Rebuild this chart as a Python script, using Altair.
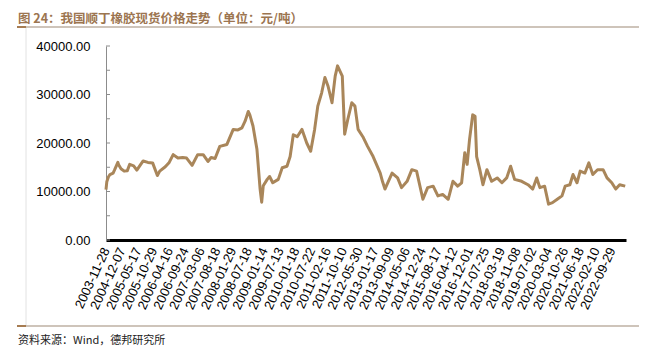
import altair as alt
import pandas as pd

# x tick labels (every 20 index steps)
tick_labels = [
    "2003-11-28", "2004-12-07", "2005-05-17", "2005-10-29", "2006-04-16", "2006-09-24",
    "2007-03-06", "2007-08-18", "2008-01-29", "2008-07-18", "2009-01-14", "2009-07-13",
    "2010-01-18", "2010-07-22", "2011-02-16", "2011-10-10", "2012-05-30", "2013-01-17",
    "2013-09-09", "2014-05-06", "2014-12-24", "2015-08-17", "2016-04-12", "2016-12-01",
    "2017-07-25", "2018-03-19", "2018-11-08", "2019-07-02", "2020-03-04", "2020-10-26",
    "2021-06-18", "2022-02-10", "2022-09-29",
]

# observation index (trading-day position) and price (yuan/ton)
idx = [0, 1, 3, 5, 9, 11, 15, 16, 19, 23, 27, 30, 35, 39, 47, 53, 59, 65, 68, 75,
       80, 85, 91, 97, 102, 109, 116, 123, 129, 133, 138, 144, 153, 161, 167, 172, 176, 180, 182, 186,
       191, 195, 197, 199, 204, 207, 211, 218, 223, 229, 233, 237, 242, 248, 254, 259, 264, 268, 273, 277,
       281, 286, 290, 293, 299, 302, 306, 311, 315, 319, 325, 331, 338, 347, 350, 353, 362, 369, 374, 381,
       387, 393, 401, 407, 414, 420, 426, 433, 439, 445, 450, 454, 457, 460, 464, 467, 469, 473, 477, 482,
       488, 495, 501, 507, 512, 517, 526, 534, 540, 545, 549, 555, 560, 565, 571, 577, 581, 587, 591, 596,
       600, 606, 611, 616, 622, 629, 634, 640, 645, 650, 657]
price = [10400, 12000, 13000, 13500, 13800, 14500, 16000, 15500, 14700, 14200, 14300, 15600, 15300, 14400, 16300, 16000, 15900, 13300, 14200, 15100,
         16000, 17600, 16900, 17000, 16900, 15400, 17600, 17600, 16200, 17000, 16800, 19300, 19700, 22800, 22700, 23100, 24500, 26500, 25800, 23500,
         18700, 10500, 7800, 11200, 12500, 13100, 11800, 12500, 14900, 15200, 17200, 21700, 21300, 22800, 20000, 18300, 22800, 27600, 30400, 33500,
         31700, 28300, 33800, 35900, 33800, 21800, 24900, 28300, 27600, 22800, 21300, 19300, 17200, 13800, 12000, 10500, 13800, 12800, 10800, 12100,
         14500, 14200, 8400, 10800, 11100, 9100, 9400, 8400, 12100, 11100, 11800, 18000, 15600, 20700, 25800, 25500, 17200, 14500, 11400, 14500,
         12100, 12800, 11800, 12800, 15200, 12500, 12100, 11400, 10500, 12800, 10800, 11100, 7400, 7700, 8400, 9100, 11100, 11400, 13500, 11800,
         14200, 13800, 15900, 13500, 14500, 14500, 12800, 11800, 10500, 11400, 11100]

y_ticks = [0, 5000, 10000, 15000, 20000, 25000, 30000, 35000, 40000]

title_text = "图 24：我国顺丁橡胶现货价格走势（单位：元/吨）"
source_text = "资料来源：Wind，德邦研究所"

df = pd.DataFrame({"i": idx, "price": price})
ticks_df = pd.DataFrame({"v": y_ticks})
one = pd.DataFrame({"a": [0]})

label_expr = "[" + ",".join(f"'{s}'" for s in tick_labels) + "][round(datum.value/20)]"

x_enc = alt.X(
    "i:Q",
    scale=alt.Scale(domain=[0, 658], nice=False, zero=False),
    axis=alt.Axis(
        values=[20 * k for k in range(len(tick_labels))],
        labelExpr=label_expr, labelAngle=-65, labelOverlap=False,
        ticks=False, grid=False, domainColor="black", domainWidth=3,
        labelFontSize=13, labelFont="Liberation Sans", labelColor="black",
        labelPadding=8, title=None,
    ),
)
y_enc = alt.Y(
    "price:Q",
    scale=alt.Scale(domain=[0, 40000], nice=False),
    axis=alt.Axis(
        values=y_ticks, format=".2f", ticks=False, grid=False,
        domainColor="#8c8c8c", labelFontSize=13, labelFont="Liberation Sans",
        labelColor="black", labelPadding=16, title=None,
    ),
)

line = alt.Chart(df).mark_line(color="#A9865A", strokeWidth=3, strokeJoin="round").encode(x=x_enc, y=y_enc)

inner_ticks = alt.Chart(ticks_df).mark_rule(color="#8c8c8c").encode(
    y=alt.Y("v:Q", scale=alt.Scale(domain=[0, 40000], nice=False)),
    x=alt.value(0), x2=alt.value(4),
)

title = alt.Chart(one).mark_text(
    align="left", baseline="middle", fontSize=12.5, fontWeight="bold",
    font="Noto Sans CJK SC", color="#9C7550",
).encode(x=alt.value(-88), y=alt.value(-27), text=alt.value(title_text))

source = alt.Chart(one).mark_text(
    align="left", baseline="middle", fontSize=11,
    font="Noto Sans CJK SC", color="#222222",
).encode(x=alt.value(-88), y=alt.value(295), text=alt.value(source_text))

top_rule = alt.Chart(one).mark_rule(color="#BEB1A3", strokeWidth=1.5).encode(
    x=alt.value(-89), x2=alt.value(533), y=alt.value(-19))
top_rule_dark = alt.Chart(one).mark_rule(color="#A67C52", strokeWidth=2).encode(
    x=alt.value(-89), x2=alt.value(-80), y=alt.value(-19))
bot_rule = alt.Chart(one).mark_rule(color="#BEB1A3", strokeWidth=1.5).encode(
    x=alt.value(-89), x2=alt.value(533), y=alt.value(280))
bot_rule_dark = alt.Chart(one).mark_rule(color="#A67C52", strokeWidth=2).encode(
    x=alt.value(-89), x2=alt.value(-80), y=alt.value(280))
left_rule = alt.Chart(one).mark_rule(color="#E2E2E2", strokeWidth=1).encode(
    x=alt.value(-80), y=alt.value(-19), y2=alt.value(280))

chart = alt.layer(
    left_rule, top_rule, top_rule_dark, bot_rule, bot_rule_dark,
    inner_ticks, line, title, source,
).properties(
    width=520, height=194,
    autosize=alt.AutoSizeParams(type="none"),
    padding={"left": 98, "top": 38, "right": 22, "bottom": 108},
).configure_view(stroke=None)

chart.save("out.html", embed_options={"renderer": "svg", "actions": False})
